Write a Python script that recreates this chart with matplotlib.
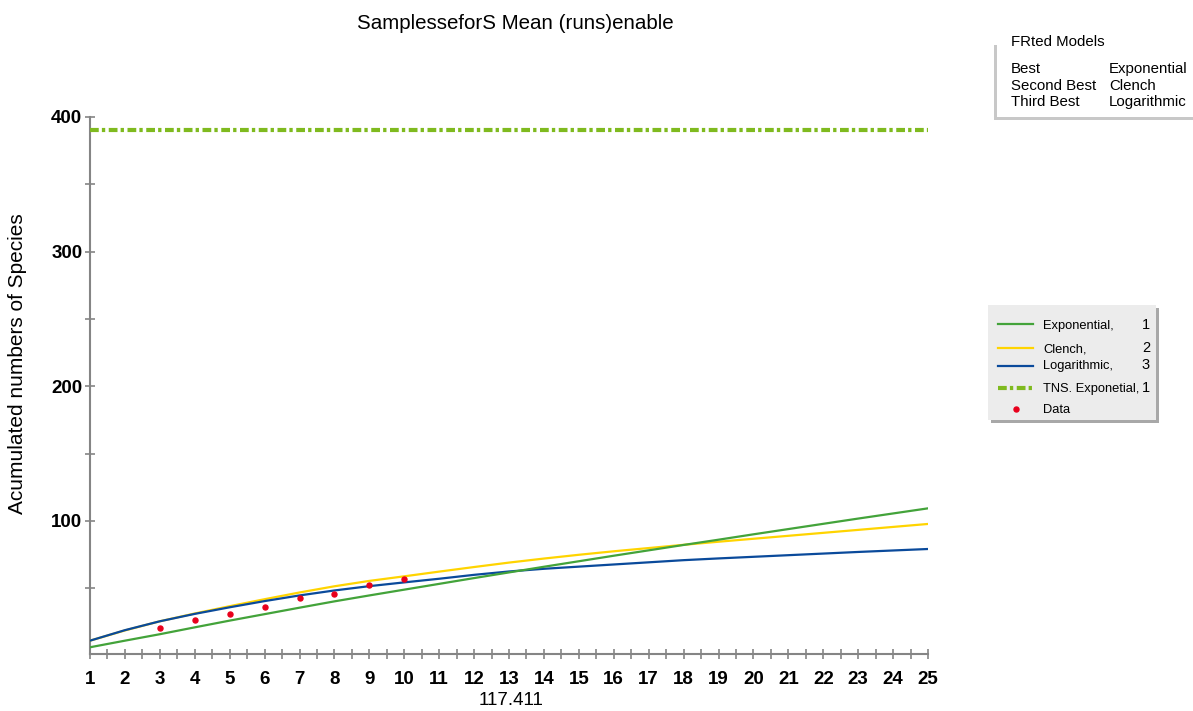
import numpy as np
import matplotlib
matplotlib.use("Agg")
import matplotlib.pyplot as plt
from matplotlib import font_manager
from matplotlib.patches import Rectangle
from matplotlib.lines import Line2D

# ---- data -------------------------------------------------------------
samples = list(range(1, 26))
exponential = [6.1, 11.0, 15.8, 20.9, 25.9, 30.7, 35.5, 40.2, 44.6, 48.9,
               53.2, 57.5, 61.7, 65.9, 70.0, 74.1, 78.1, 82.1, 86.0, 90.0,
               93.9, 97.8, 101.7, 105.5, 109.3]
clench = [11.0, 18.6, 25.4, 31.2, 36.6, 41.8, 46.8, 51.4, 55.4, 58.8,
          62.3, 65.7, 69.0, 72.0, 74.8, 77.4, 79.8, 82.2, 84.5, 86.7,
          88.9, 91.1, 93.3, 95.5, 97.7]
logarithmic = [11.0, 18.8, 25.4, 30.9, 35.8, 40.4, 44.6, 48.3, 51.5, 54.3,
               57.0, 59.9, 62.4, 64.4, 66.0, 67.6, 69.2, 70.8, 72.1, 73.3,
               74.5, 75.7, 76.9, 78.0, 79.1]
data_x = [3, 4, 5, 6, 7, 8, 9, 10]
data_y = [20.2, 26.1, 31.0, 36.2, 42.5, 45.9, 52.3, 56.8]
tns_exponential = 390.5

ranking = ["Best", "Second Best", "Third Best"]
ranked_models = ["Exponential", "Clench", "Logarithmic"]
legend_labels = ["Exponential,", "Clench,", "Logarithmic,", "TNS. Exponetial,", "Data"]
legend_ranks = ["1", "2", "3", "1", ""]

title = "SamplesseforS Mean (runs)enable"
xlabel = "117.411"
ylabel = "Acumulated numbers of Species"

# ---- styles -----------------------------------------------------------
C_EXP = "#43a33a"
C_CLE = "#ffd400"
C_LOG = "#0a4a9b"
C_TNS = "#7fba1f"
C_DAT = "#e8001c"
AXIS_GREY = "#858585"
TNS_DASH = (0, (2.1, 0.75, 0.8, 0.85))

names = {f.name for f in font_manager.fontManager.ttflist}
BASE = "Liberation Sans" if "Liberation Sans" in names else "DejaVu Sans"
if "Liberation Sans Narrow" in names:
    NARROW, BOX1_SIZE, BOX2_SIZE = "Liberation Sans Narrow", 12.5, 12.5
else:
    NARROW, BOX1_SIZE, BOX2_SIZE = BASE, 10.8, 9.3

plt.rcParams["font.family"] = [BASE, "DejaVu Sans"]

W, H = 1193, 711
fig = plt.figure(figsize=(W / 100, H / 100), dpi=100)


def fx(px):
    return px / W


def fy(py):
    return 1 - py / H


ax = fig.add_axes([fx(90), fy(654), fx(928) - fx(90), fy(117) - fy(654)])

ax.plot(samples, clench, color=C_CLE, lw=1.6, zorder=3)
ax.plot(samples, logarithmic, color=C_LOG, lw=1.6, zorder=4)
ax.plot(samples, exponential, color=C_EXP, lw=1.6, zorder=5)
ax.plot(data_x, data_y, "o", color=C_DAT, ms=3.6, zorder=6)
ax.plot([samples[0], samples[-1]], [tns_exponential] * 2, color=C_TNS,
        lw=3.0, linestyle=TNS_DASH, dash_capstyle="butt", zorder=7, clip_on=False)

ax.set_xlim(samples[0], samples[-1])
ax.set_ylim(1.1, 400)

xt = np.arange(samples[0], samples[-1] + 0.01, 0.5)
ax.set_xticks(xt)
ax.set_xticklabels([str(int(v)) if float(v).is_integer() else "" for v in xt])
yt = np.arange(50, 401, 50)
ax.set_yticks(yt)
ax.set_yticklabels([str(int(v)) if v % 100 == 0 else "" for v in yt])

for s in ("top", "right"):
    ax.spines[s].set_visible(False)
for s in ("left", "bottom"):
    ax.spines[s].set_color(AXIS_GREY)
    ax.spines[s].set_linewidth(1.5)

ax.tick_params(axis="both", direction="inout", length=7, width=1.2,
               color=AXIS_GREY, labelsize=13.5, labelcolor="black")
ax.tick_params(axis="x", pad=9)
ax.tick_params(axis="y", pad=2)
for lab in ax.get_xticklabels() + ax.get_yticklabels():
    lab.set_fontweight("bold")

fig.text(fx(515.5), fy(29), title, ha="center", va="baseline", fontsize=14.8)
fig.text(fx(511), fy(705), xlabel, ha="center", va="baseline", fontsize=13.5)
fig.text(fx(18), fy(364), ylabel, ha="center", va="center", rotation=90,
         fontsize=15)

# ---- ranking box (top right) -----------------------------------------
fig.patches.append(Rectangle((fx(994), fy(120)), fx(W + 5) - fx(994),
                             fy(45) - fy(120), transform=fig.transFigure,
                             facecolor="#c8c8c8", edgecolor="none"))
fig.patches.append(Rectangle((fx(997), fy(117)), fx(W + 5) - fx(997),
                             fy(26) - fy(117), transform=fig.transFigure,
                             facecolor="white", edgecolor="none"))
fig.text(fx(1011), fy(46.5), "FRted Models", ha="left", va="baseline",
         family=NARROW, fontsize=BOX1_SIZE)
for i, (r, m) in enumerate(zip(ranking, ranked_models)):
    yb = [73, 90, 106][i]
    fig.text(fx(1011), fy(yb), r, ha="left", va="baseline",
             family=NARROW, fontsize=BOX1_SIZE)
    fig.text(fx(1109), fy(yb), m, ha="left", va="baseline",
             family=NARROW, fontsize=BOX1_SIZE)

# ---- series legend box ----------------------------------------------
fig.patches.append(Rectangle((fx(991), fy(423)), fx(1159) - fx(991),
                             fy(308) - fy(423), transform=fig.transFigure,
                             facecolor="#a8a8a8", edgecolor="none"))
fig.patches.append(Rectangle((fx(988), fy(420)), fx(1156) - fx(988),
                             fy(305) - fy(420), transform=fig.transFigure,
                             facecolor="#ececec", edgecolor="none"))

baselines = [329, 352, 369, 392, 413]
handle_y = [324, 347.5, 366, 388, 409]
styles = [dict(color=C_EXP, lw=1.6), dict(color=C_CLE, lw=1.6),
          dict(color=C_LOG, lw=1.6),
          dict(color=C_TNS, lw=3.0, linestyle=TNS_DASH, dash_capstyle="butt")]
for i, (lab, rk) in enumerate(zip(legend_labels, legend_ranks)):
    if i < 4:
        fig.lines.append(Line2D([fx(998), fx(1033)], [fy(handle_y[i])] * 2,
                                transform=fig.transFigure, **styles[i]))
    else:
        fig.lines.append(Line2D([fx(1015.5)], [fy(handle_y[i])], marker="o",
                                color=C_DAT, ms=3.6, linestyle="none",
                                transform=fig.transFigure))
    fig.text(fx(1043), fy(baselines[i]), lab, ha="left", va="baseline",
             family=NARROW, fontsize=BOX2_SIZE)
    if rk:
        fig.text(fx(1150), fy(baselines[i]), rk, ha="right", va="baseline",
                 family=NARROW, fontsize=BOX2_SIZE + 1.2)

fig.savefig("out.png", dpi=100)
